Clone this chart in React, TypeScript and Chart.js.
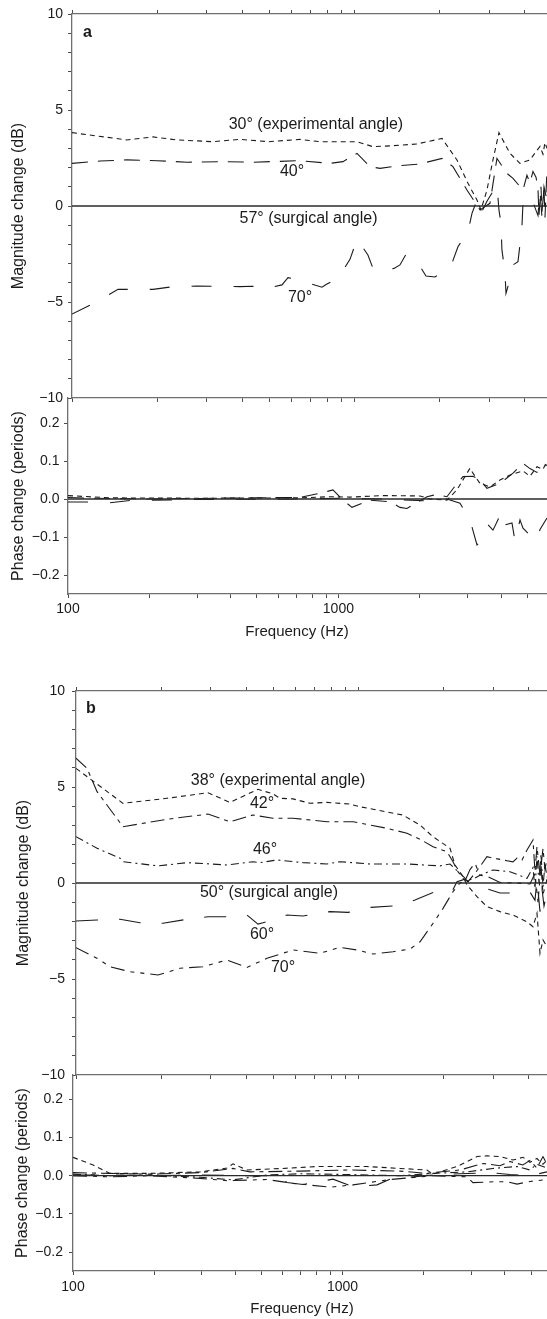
import React, { useEffect, useRef } from "react";
import { Chart, registerables } from "chart.js";

Chart.register(...registerables);

const FONT = "'Liberation Sans', Arial, Helvetica, sans-serif";
const INK = "#1b1b1b";
const AXIS_COLOR = "#6f6f6f";
const TICK_COLOR = "#4a4a4a";

// ---------- axis ticks ----------
const xTickValues = [100, 200, 300, 400, 500, 600, 700, 800, 900, 1000, 2000, 3000, 4000, 5000];
const xTickLabels = [100, 1000];
const magTickValues = [-10, -9, -8, -7, -6, -5, -4, -3, -2, -1, 0, 1, 2, 3, 4, 5, 6, 7, 8, 9, 10];
const phaseTickValues = [-0.2, -0.1, 0, 0.1, 0.2];

// surgical angle = reference (zero change)
const surgicalFreq = [100, 10000];
const surgicalVals = [0, 0];

// ---------- Panel a : magnitude (dB) ----------
const aMag30Freq = [100, 156.5, 193.5, 235.3, 315.4, 393.0, 497.9, 641.0, 754.4, 1020, 1162, 1368, 1663, 2039, 2303, 2520, 2711, 2801, 2941, 3088, 3243, 3548, 3849, 4175, 4386, 4531, 4642, 4719, 4797];
const aMag30 = [3.82, 3.44, 3.60, 3.44, 3.35, 3.47, 3.35, 3.47, 3.35, 3.35, 3.09, 3.14, 3.23, 3.52, 2.40, 1.18, 0.31, -0.20, 0.83, 2.40, 3.82, 2.74, 2.22, 2.40, 2.83, 3.10, 2.70, 3.30, 3.00];

const aMag40Freq = [100, 125.6, 156.5, 199.9, 255.3, 334.1, 437.0, 501.9, 641.0, 818.4, 909.9, 1020, 1134, 1230, 1447, 1704, 2039, 2229, 2499, 2778, 3014, 3190, 3462, 3636, 3944, 4074, 4175, 4279, 4386, 4457, 4494, 4568, 4605, 4681, 4719, 4797];
const aMag40 = [2.22, 2.34, 2.40, 2.36, 2.28, 2.31, 2.28, 2.31, 2.36, 2.22, 2.31, 2.74, 2.05, 1.96, 2.10, 2.19, 2.48, 2.05, 0.83, -0.20, 0.14, 2.48, 1.70, 1.44, 0.83, 1.60, 1.20, 1.80, 1.50, 0.90, -0.50, 1.00, -0.30, 0.90, -0.60, 1.90];

const aMag70Freq = [100, 115.8, 136.3, 145.5, 193.5, 227.8, 276.9, 326.0, 393.0, 437.0, 470.2, 553.5, 581.2, 630.6, 766.6, 798.5, 873.5, 963.2, 1020, 1115, 1162, 1220, 1379, 1447, 1520, 1704, 1789, 1925, 2193, 2322, 2520, 2603, 2711, 2801, 2941, 3190, 3243, 3296, 3323, 3405, 3434, 3518, 3636, 3787, 3849, 3913, 3944, 4074, 4279, 4457, 4531, 4605, 4681, 4797];
const aMag70 = [-5.63, -5.16, -4.58, -4.34, -4.34, -4.20, -4.17, -4.18, -4.20, -4.18, -4.34, -4.11, -3.73, -3.85, -4.23, -4.06, -3.77, -2.78, -1.73, -2.55, -3.25, -3.39, -3.25, -3.07, -2.52, -3.13, -3.65, -3.70, -3.13, -2.12, -1.34, -0.38, 0.31, -0.38, 0.25, 1.10, -0.20, -0.90, -2.30, -3.42, -4.55, -4.00, -3.07, -2.90, -2.00, -1.00, 0.14, -0.20, 0.20, -0.50, 0.80, -0.60, 1.00, 0.30];

// ---------- Panel a : phase (periods) ----------
const aPh30Freq = [100, 143.0, 307.7, 721.1, 931, 1104, 1462, 2004, 2182, 2521, 2745, 3067, 3146, 3340, 3637, 3959, 4312, 4817, 5112, 5427, 5712, 5910];
const aPh30 = [0.009, 0.003, 0.002, 0.003, 0.006, 0.005, 0.009, 0.008, 0.0, -0.003, 0.024, 0.081, 0.068, 0.041, 0.032, 0.05, 0.063, 0.074, 0.06, 0.085, 0.078, 0.10];

const aPh40Freq = [100, 120.6, 201.1, 471.0, 721.1, 855.0, 955.0, 1040, 1123, 1309, 1551, 1690, 1793, 2127, 2315, 2521, 2745, 2890, 3146, 3340, 3545, 3959, 4425, 4817, 5112, 5427, 5910];
const aPh40 = [0.004, 0.002, 0.0, 0.003, 0.004, 0.015, 0.024, -0.003, -0.022, -0.003, -0.007, -0.022, -0.025, 0.006, 0.012, 0.006, 0.041, 0.059, 0.06, 0.05, 0.028, 0.041, 0.068, 0.094, 0.08, 0.07, 0.09];

const aPh70Freq = [100, 120.6, 143.0, 169.6, 307.7, 721.1, 1014, 1462, 2127, 2521, 2817, 3067, 3256, 3397, 3576, 3731, 4027, 4131, 4385, 4500, 4696, 4817, 5112, 5427, 5568, 5910];
const aPh70 = [-0.008, -0.008, -0.01, -0.004, -0.001, 0.0, 0.002, 0.0, -0.005, 0.0, -0.011, -0.055, -0.121, -0.108, -0.068, -0.082, -0.033, -0.068, -0.063, -0.11, -0.055, -0.077, -0.095, -0.11, -0.08, -0.05];

// ---------- Panel b : magnitude (dB) ----------
const bMag38Freq = [100, 146.7, 209.8, 293.0, 350.5, 440.4, 497.6, 526.8, 585.6, 672.6, 772.5, 931.7, 1011, 1161, 1434, 1648, 1832, 2104, 2191, 2320, 2416, 2620, 2843, 3161, 3514, 3939, 4136, 4273, 4379, 4488, 4636];
const bMag38 = [5.97, 4.15, 4.41, 4.70, 4.20, 4.88, 4.64, 4.41, 4.38, 4.15, 4.20, 4.11, 3.97, 3.80, 3.54, 3.02, 2.41, 1.81, 0.94, 0.42, -0.10, -0.71, -1.23, -1.49, -1.67, -2.02, -2.28, -1.58, -3.66, -2.97, -3.32];

const bMag42Freq = [100, 109.4, 118.7, 146.7, 209.8, 293.0, 350.5, 422.7, 497.6, 585.6, 772.5, 954.7, 1096, 1259, 1482, 1648, 1832, 2053, 2156, 2245, 2339, 2436, 2579, 2843, 2986, 3347, 3514, 3631, 3782, 3939, 4136, 4204, 4273, 4379, 4488, 4560, 4636];
const bMag42 = [6.50, 5.97, 4.76, 2.93, 3.32, 3.59, 3.19, 3.54, 3.37, 3.37, 3.19, 3.19, 3.02, 2.85, 2.59, 2.28, 1.89, 1.63, 1.11, 0.59, 0.24, 0.07, 0.50, 1.37, 1.30, 1.16, 1.10, 1.30, 1.20, 1.72, 2.24, 0.60, 1.90, 0.40, 1.80, 0.70, 1.30];

const bMag46Freq = [100, 118.7, 143.1, 146.7, 195.0, 247.0, 342.0, 422.7, 447.6, 514.1, 635.3, 772.5, 858.8, 1096, 1482, 1940, 2104, 2282, 2416, 2537, 2686, 2986, 3429, 3939, 4136, 4204, 4273, 4343, 4415, 4488, 4560, 4636];
const bMag46 = [2.41, 1.81, 1.29, 1.11, 0.89, 1.06, 0.94, 1.11, 1.06, 1.20, 1.06, 0.99, 1.11, 0.99, 0.99, 0.89, 0.99, 0.50, 0.16, 0.20, 0.40, 0.68, 0.59, 0.24, 0.80, -0.30, 1.40, 0.00, 1.50, -0.20, 1.00, 0.30];

const bMag60Freq = [100, 118.7, 143.1, 168.4, 203.1, 247.0, 293.0, 342.0, 402.6, 440.4, 458.6, 557.7, 635.3, 791.6, 916.7, 1096, 1322, 1582, 1832, 1988, 2138, 2227, 2377, 2579, 2843, 3161, 3514, 3721, 4036, 4204, 4273, 4379, 4451, 4524, 4636];
const bMag60 = [-1.98, -1.93, -1.89, -2.07, -2.10, -1.89, -1.76, -1.76, -1.67, -2.14, -2.07, -1.67, -1.72, -1.49, -1.53, -1.27, -1.20, -0.89, -0.50, -0.53, -0.45, 0.07, 0.20, -0.10, -0.30, -0.52, -0.52, -0.47, -0.47, -0.90, 0.20, -1.50, -0.30, -1.20, -0.50];

const bMag70Freq = [100, 118.7, 131.9, 155.2, 195.0, 233.3, 281.3, 342.0, 402.6, 473.8, 585.6, 729.6, 858.8, 986.3, 1124, 1322, 1519, 1648, 1832, 1988, 2156, 2282, 2377, 2476, 2579, 2686, 2843, 3161, 3573, 4036, 4204, 4309, 4415, 4488, 4636];
const bMag70 = [-3.37, -3.92, -4.36, -4.62, -4.79, -4.44, -4.36, -4.01, -4.40, -3.92, -3.49, -3.66, -3.35, -3.49, -3.70, -3.58, -3.44, -3.06, -2.10, -1.32, -0.45, 0.00, 0.10, 0.70, 1.03, 0.40, 0.35, 0.03, 0.00, -0.05, 0.50, -1.00, 0.90, -0.60, 0.20];

// ---------- Panel b : phase (periods) ----------
const bPh38Freq = [100, 118.7, 137.2, 193.0, 295.9, 372.6, 392.3, 442.0, 601.0, 803.5, 1232, 1633, 2056, 2164, 2657, 3151, 3433, 3836, 4286, 4668, 4955, 5260, 5538, 5732];
const bPh38 = [0.048, 0.028, 0.006, 0.006, 0.010, 0.020, 0.031, 0.015, 0.019, 0.024, 0.024, 0.019, 0.015, 0.004, 0.024, 0.050, 0.052, 0.050, 0.041, 0.048, 0.035, 0.045, 0.030, 0.040];

const bPh42Freq = [100, 137.2, 193.0, 295.9, 392.3, 453.4, 695.0, 1065, 1633, 2056, 2164, 2726, 3317, 3836, 4178, 4668, 4955, 5260, 5538, 5732];
const bPh42 = [0.008, 0.006, 0.004, 0.008, 0.019, 0.010, 0.012, 0.015, 0.012, 0.006, 0.008, 0.015, 0.032, 0.026, 0.037, 0.028, 0.040, 0.020, 0.050, 0.030];

const bPh46Freq = [100, 137.2, 193.0, 295.9, 392.3, 524.3, 695.0, 1065, 1633, 2164, 2893, 3614, 4436, 4955, 5260, 5732];
const bPh46 = [0.004, 0.000, 0.002, -0.004, -0.011, 0.002, 0.005, 0.003, 0.000, 0.006, 0.010, 0.019, 0.024, 0.015, 0.030, 0.020];

const bPh60Freq = [100, 137.2, 193.0, 295.9, 453.4, 586.0, 621.9, 713.0, 921.3, 1093, 1342, 1499, 2164, 2726, 3522, 4178, 4955, 5732];
const bPh60 = [0.002, 0.002, 0.000, 0.002, 0.000, 0.000, -0.018, -0.023, -0.009, -0.029, -0.024, -0.009, 0.002, 0.005, 0.008, 0.003, 0.000, 0.010];

const bPh70Freq = [100, 137.2, 193.0, 295.9, 372.6, 524.3, 654.6, 898.1, 1093, 1499, 2164, 2893, 3045, 3614, 4073, 4436, 4955, 5732];
const bPh70 = [0.000, -0.003, 0.000, -0.007, -0.013, -0.010, -0.020, -0.030, -0.024, -0.010, 0.000, -0.003, -0.018, -0.016, -0.016, -0.022, -0.015, -0.010];

// ---------- line styles ----------
const DASH: Record<string, number[]> = {
  a30: [5, 4],
  a40: [16, 10],
  a70: [20, 22],
  b38: [5, 4],
  b42: [14, 5, 4, 5],
  b46: [8, 4, 2, 4],
  b60: [22, 21],
  b70: [14, 6, 4, 6, 4, 6],
};

const fmtMag = (v: number) => (v % 5 === 0 ? (v < 0 ? "\u2212" + Math.abs(v) : String(v)) : "");
const fmtPhase = (v: number) => (v < -1e-9 ? "\u2212" : "") + Math.abs(v).toFixed(1);

const pts = (f: number[], v: number[]) => f.map((x, i) => ({ x, y: v[i] }));

function lineDs(f: number[], v: number[], dash: number[], width = 1.1, color = INK) {
  return {
    data: pts(f, v),
    borderColor: color,
    borderWidth: width,
    borderDash: dash,
    pointRadius: 0,
    fill: false,
    tension: 0,
  };
}

type Annot = { text: string; f: number; v: number; bold?: boolean; align?: CanvasTextAlign };

type Panel = {
  id: string;
  kind: "mag" | "phase";
  canvasTop: number;
  canvasHeight: number;
  padTop: number;
  topAxisH: number;
  bottomAxisH: number;
  areaLeft: number;
  xMax: number;
  yMin: number;
  yMax: number;
  yTicks: number[];
  yFormat: (v: number) => string;
  yTickPad: number;
  yTitle: string;
  yTitlePad: number;
  xLabelPad: number;
  xTitle?: { dx: number; dy: number };
  datasets: any[];
  texts: Annot[];
};

const PANELS: Panel[] = [
  {
    id: "aMag",
    kind: "mag",
    canvasTop: 0,
    canvasHeight: 413,
    padTop: 9,
    topAxisH: 5,
    bottomAxisH: 15,
    areaLeft: 72,
    xMax: 4797,
    yMin: -10,
    yMax: 10,
    yTicks: magTickValues,
    yFormat: fmtMag,
    yTickPad: 5,
    yTitle: "Magnitude change (dB)",
    yTitlePad: 9,
    xLabelPad: 2,
    datasets: [
      lineDs(surgicalFreq, surgicalVals, [], 1.3, "#2a2a2a"),
      lineDs(aMag30Freq, aMag30, DASH.a30),
      lineDs(aMag40Freq, aMag40, DASH.a40),
      lineDs(aMag70Freq, aMag70, DASH.a70),
    ],
    texts: [
      { text: "a", f: 109.4, v: 9.04, bold: true, align: "left" },
      { text: "30° (experimental angle)", f: 730, v: 4.22 },
      { text: "40°", f: 600.5, v: 1.77 },
      { text: "57° (surgical angle)", f: 687, v: -0.63 },
      { text: "70°", f: 641, v: -4.77 },
    ],
  },
  {
    id: "aPhase",
    kind: "phase",
    canvasTop: 384,
    canvasHeight: 261,
    padTop: 14,
    topAxisH: 0,
    bottomAxisH: 51,
    areaLeft: 68,
    xMax: 5910,
    yMin: -0.25,
    yMax: 0.2658,
    yTicks: phaseTickValues,
    yFormat: fmtPhase,
    yTickPad: 4.5,
    yTitle: "Phase change (periods)",
    yTitlePad: 9,
    xLabelPad: 3,
    xTitle: { dx: 229, dy: 38 },
    datasets: [
      lineDs(surgicalFreq, surgicalVals, [], 1.3, "#2a2a2a"),
      lineDs(aPh30Freq, aPh30, DASH.a30),
      lineDs(aPh40Freq, aPh40, DASH.a40),
      lineDs(aPh70Freq, aPh70, DASH.a70),
    ],
    texts: [],
  },
  {
    id: "bMag",
    kind: "mag",
    canvasTop: 675,
    canvasHeight: 416,
    padTop: 11,
    topAxisH: 5,
    bottomAxisH: 16,
    areaLeft: 76,
    xMax: 4636,
    yMin: -10,
    yMax: 10,
    yTicks: magTickValues,
    yFormat: fmtMag,
    yTickPad: 7,
    yTitle: "Magnitude change (dB)",
    yTitlePad: 14,
    xLabelPad: 2,
    datasets: [
      lineDs(surgicalFreq, surgicalVals, [], 1.3, "#2a2a2a"),
      lineDs(bMag38Freq, bMag38, DASH.b38),
      lineDs(bMag42Freq, bMag42, DASH.b42),
      lineDs(bMag46Freq, bMag46, DASH.b46),
      lineDs(bMag60Freq, bMag60, DASH.b60),
      lineDs(bMag70Freq, bMag70, DASH.b70),
    ],
    texts: [
      { text: "b", f: 108.5, v: 9.09, bold: true, align: "left" },
      { text: "38° (experimental angle)", f: 518.3, v: 5.34 },
      { text: "42°", f: 454.9, v: 4.11 },
      { text: "46°", f: 466.3, v: 1.74 },
      { text: "50° (surgical angle)", f: 481.6, v: -0.49 },
      { text: "60°", f: 454.9, v: -2.68 },
      { text: "70°", f: 539.8, v: -4.4 },
    ],
  },
  {
    id: "bPhase",
    kind: "phase",
    canvasTop: 1060,
    canvasHeight: 259,
    padTop: 15,
    topAxisH: 0,
    bottomAxisH: 48,
    areaLeft: 73,
    xMax: 5732,
    yMin: -0.2492,
    yMax: 0.2633,
    yTicks: phaseTickValues,
    yFormat: fmtPhase,
    yTickPad: 6,
    yTitle: "Phase change (periods)",
    yTitlePad: 13,
    xLabelPad: 3.5,
    xTitle: { dx: 229, dy: 37.5 },
    datasets: [
      lineDs(surgicalFreq, surgicalVals, [], 1.3, "#2a2a2a"),
      lineDs(bPh38Freq, bPh38, DASH.b38),
      lineDs(bPh42Freq, bPh42, DASH.b42),
      lineDs(bPh46Freq, bPh46, DASH.b46),
      lineDs(bPh60Freq, bPh60, DASH.b60),
      lineDs(bPh70Freq, bPh70, DASH.b70),
    ],
    texts: [],
  },
];

function makeTextPlugin(p: Panel) {
  return {
    id: "panelText_" + p.id,
    afterDatasetsDraw(chart: any) {
      const { ctx, scales, chartArea } = chart;
      const xs = scales.x;
      const ys = scales.y;
      ctx.save();
      ctx.fillStyle = INK;
      ctx.textBaseline = "middle";
      for (const t of p.texts) {
        ctx.font = `${t.bold ? "bold " : ""}16px ${FONT}`;
        ctx.textAlign = t.align || "center";
        ctx.fillText(t.text, xs.getPixelForValue(t.f), ys.getPixelForValue(t.v));
      }
      if (p.xTitle) {
        ctx.font = `15px ${FONT}`;
        ctx.textAlign = "center";
        ctx.fillText("Frequency (Hz)", chartArea.left + p.xTitle.dx, chartArea.bottom + p.xTitle.dy);
      }
      ctx.restore();
    },
  };
}

function buildConfig(p: Panel): any {
  const isMag = p.kind === "mag";
  const xTicks = xTickValues.filter((v) => v <= p.xMax);
  const baseX = {
    type: "logarithmic",
    min: 100,
    max: p.xMax,
    afterBuildTicks: (s: any) => {
      s.ticks = xTicks.map((v) => ({ value: v }));
    },
    grid: { display: true, drawOnChartArea: false, drawTicks: true, tickLength: 4, tickColor: TICK_COLOR, tickWidth: 1 },
    border: { display: true, color: AXIS_COLOR, width: 1.3 },
  };
  const scales: any = {
    x: {
      ...baseX,
      position: "bottom",
      ticks: {
        display: !isMag,
        autoSkip: false,
        maxRotation: 0,
        padding: p.xLabelPad,
        color: INK,
        font: { family: FONT, size: 14 },
        callback: (v: number) => (xTickLabels.includes(v) ? String(v) : ""),
      },
      afterFit: (s: any) => {
        s.height = p.bottomAxisH;
      },
    },
    y: {
      type: "linear",
      position: "left",
      min: p.yMin,
      max: p.yMax,
      afterBuildTicks: (s: any) => {
        s.ticks = p.yTicks.map((v) => ({ value: v }));
      },
      ticks: {
        autoSkip: false,
        padding: p.yTickPad,
        color: INK,
        font: { family: FONT, size: 14 },
        callback: (v: number) => p.yFormat(v),
      },
      grid: { display: true, drawOnChartArea: false, drawTicks: true, tickLength: 4, tickColor: TICK_COLOR },
      border: { display: true, color: AXIS_COLOR, width: 1.3 },
      title: {
        display: true,
        text: p.yTitle,
        color: INK,
        font: { family: FONT, size: 16 },
        padding: { top: p.yTitlePad, bottom: 0 },
      },
      afterFit: (s: any) => {
        s.width = p.areaLeft;
      },
    },
  };
  if (isMag) {
    scales.x2 = {
      ...baseX,
      position: "top",
      ticks: { display: false },
      afterFit: (s: any) => {
        s.height = p.topAxisH;
      },
    };
  }
  return {
    type: "line",
    data: { datasets: p.datasets },
    options: {
      responsive: false,
      maintainAspectRatio: false,
      animation: false,
      devicePixelRatio: 1,
      events: [],
      layout: { padding: { top: p.padTop, left: 0, right: 0, bottom: 0 } },
      plugins: { legend: { display: false }, tooltip: { enabled: false } },
      scales,
    },
    plugins: [makeTextPlugin(p)],
  };
}

function PanelChart({ p }: { p: Panel }) {
  const ref = useRef<HTMLCanvasElement | null>(null);
  useEffect(() => {
    if (!ref.current) return;
    const chart = new Chart(ref.current, buildConfig(p));
    return () => chart.destroy();
  }, [p]);
  return (
    <canvas
      ref={ref}
      width={547}
      height={p.canvasHeight}
      style={{ position: "absolute", left: 0, top: p.canvasTop, width: 547, height: p.canvasHeight }}
    />
  );
}

export default function App() {
  return (
    <div
      style={{
        position: "absolute",
        left: 0,
        top: 0,
        width: 547,
        height: 1319,
        overflow: "hidden",
        background: "#ffffff",
      }}
    >
      {PANELS.map((p) => (
        <PanelChart key={p.id} p={p} />
      ))}
    </div>
  );
}
